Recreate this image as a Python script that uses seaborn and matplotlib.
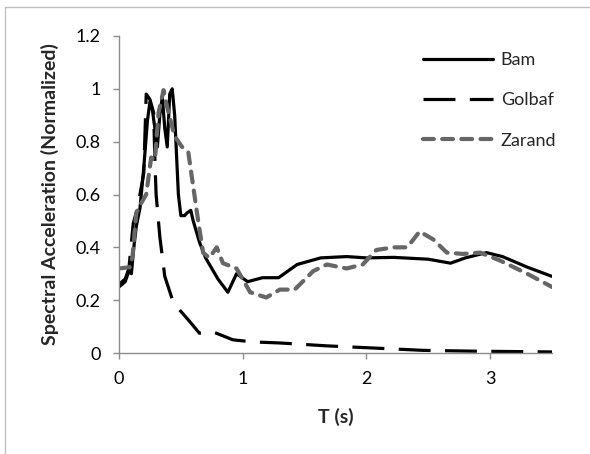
import matplotlib
matplotlib.use("Agg")
import matplotlib.pyplot as plt
import seaborn as sns
import numpy as np
from matplotlib.patches import Rectangle

bam_t = [0.0, 0.05, 0.08, 0.10, 0.12, 0.14, 0.17, 0.20, 0.23, 0.25, 0.27, 0.29, 0.31,
         0.33, 0.35, 0.37, 0.39, 0.41, 0.43, 0.45, 0.48, 0.50, 0.53, 0.55, 0.58, 0.60,
         0.65, 0.70, 0.75, 0.80, 0.88, 0.95, 1.04, 1.16, 1.29, 1.44, 1.63, 1.84, 2.0,
         2.22, 2.5, 2.68, 2.8, 2.97, 3.1, 3.3, 3.5]
bam_v = [0.25, 0.27, 0.31, 0.30, 0.40, 0.48, 0.55, 0.70, 0.88, 0.95, 0.92, 0.85, 0.78,
         0.90, 0.97, 0.85, 0.78, 0.98, 1.00, 0.90, 0.60, 0.52, 0.52, 0.53, 0.54, 0.50,
         0.42, 0.36, 0.32, 0.28, 0.23, 0.30, 0.27, 0.285, 0.285, 0.335, 0.36, 0.365, 0.36,
         0.362, 0.355, 0.34, 0.36, 0.38, 0.365, 0.325, 0.29]

golbaf_t = [0.0, 0.05, 0.08, 0.115, 0.15, 0.20, 0.22, 0.25, 0.28, 0.29, 0.30, 0.33,
            0.37, 0.44, 0.57, 0.65, 0.76, 0.92, 1.08, 1.30, 1.68, 2.05, 2.46, 2.86, 3.5]
golbaf_v = [0.26, 0.28, 0.32, 0.49, 0.55, 0.68, 0.98, 0.96, 0.91, 0.73, 0.60, 0.44,
            0.29, 0.19, 0.12, 0.075, 0.08, 0.05, 0.042, 0.038, 0.027, 0.019, 0.010,
            0.007, 0.004]

zarand_t = [0.0, 0.09, 0.11, 0.14, 0.17, 0.22, 0.26, 0.29, 0.32, 0.36, 0.38, 0.40,
            0.45, 0.51, 0.56, 0.60, 0.64, 0.68, 0.73, 0.79, 0.84, 0.95, 1.06, 1.19,
            1.30, 1.42, 1.57, 1.68, 1.84, 1.97, 2.08, 2.22, 2.33, 2.43, 2.54, 2.65,
            2.78, 2.92, 3.08, 3.30, 3.5]
zarand_v = [0.32, 0.325, 0.37, 0.53, 0.56, 0.60, 0.74, 0.73, 0.91, 0.995, 0.95, 0.91,
            0.82, 0.78, 0.76, 0.63, 0.50, 0.38, 0.36, 0.40, 0.34, 0.32, 0.23, 0.21,
            0.24, 0.24, 0.31, 0.335, 0.32, 0.335, 0.39, 0.40, 0.40, 0.46, 0.43, 0.38,
            0.375, 0.38, 0.35, 0.30, 0.25]

x_ticks = [0, 1, 2, 3]
y_ticks = [0, 0.2, 0.4, 0.6, 0.8, 1.0, 1.2]

sns.set_style("white")
plt.rcParams['font.family'] = ['Lato', 'DejaVu Sans']

W, H = 590, 454
fig = plt.figure(figsize=(W / 100, H / 100), dpi=100)
ax = fig.add_axes([119 / W, 1 - 353 / H, (552 - 119) / W, (353 - 36) / H])

sns.lineplot(x=bam_t, y=bam_v, ax=ax, color="black", linewidth=2.3,
             estimator=None, sort=False, label="Bam")
sns.lineplot(x=golbaf_t, y=golbaf_v, ax=ax, color="black", linewidth=2.3,
             estimator=None, sort=False, label="Golbaf", linestyle=(0, (10, 4.5)))
sns.lineplot(x=zarand_t, y=zarand_v, ax=ax, color="#666666", linewidth=3.0,
             estimator=None, sort=False, label="Zarand", linestyle=(0, (2.6, 2.0)),
             dash_capstyle="round")

ax.set_xlim(0, 3.5)
ax.set_ylim(0, 1.2)
ax.set_xticks(x_ticks)
ax.set_yticks(y_ticks)
ax.set_yticklabels([f"{v:g}" for v in y_ticks])
ax.set_xticklabels([f"{v:g}" for v in x_ticks])

for s in ["top", "right"]:
    ax.spines[s].set_visible(False)
for s in ["left", "bottom"]:
    ax.spines[s].set_color("#8c8c8c")
    ax.spines[s].set_linewidth(1.0)
ax.tick_params(axis="both", direction="out", length=4, width=1, color="#8c8c8c",
               labelsize=13, labelcolor="black", left=True, bottom=True, pad=9)

ax.set_xlabel("T (s)", fontsize=14, fontweight="bold", labelpad=15)
ax.set_ylabel("Spectral Acceleration (Normalized)", fontsize=14, fontweight="bold",
              labelpad=12)

leg = ax.legend(loc="upper left", bbox_to_anchor=(423 / W, 1 - 52 / H),
                bbox_transform=fig.transFigure, frameon=False, fontsize=13,
                handlelength=3.9, handletextpad=0.4, labelspacing=1.35,
                borderaxespad=0, borderpad=0)

fig.patches.append(Rectangle((5 / W, -0.1), 1.2, 1.1 - 7 / H, transform=fig.transFigure,
                             fill=False, edgecolor="#bfbfbf", linewidth=1.0))

fig.savefig("out.png", dpi=100)
